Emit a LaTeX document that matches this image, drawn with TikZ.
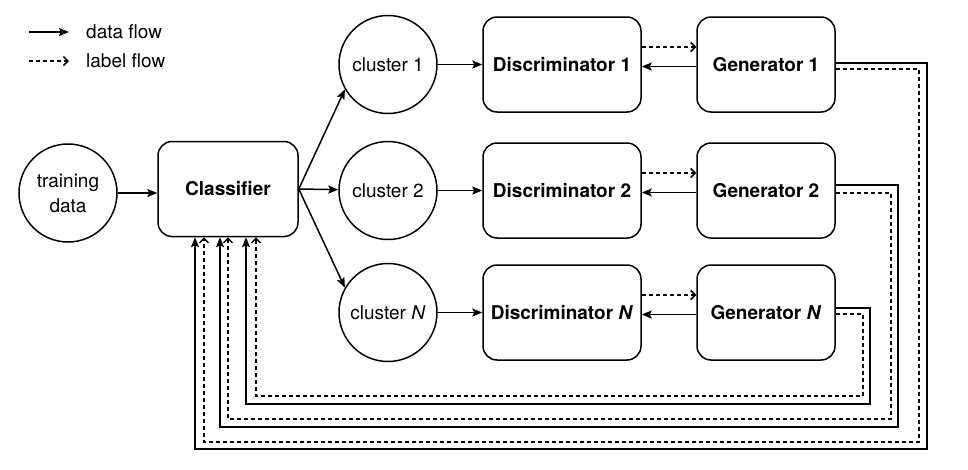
\documentclass[tikz,border=0pt]{standalone}
\usepackage{fontspec}
\setmainfont{TeX Gyre Heros}
\usetikzlibrary{arrows.meta,shapes.geometric}
\begin{document}
\begin{tikzpicture}[x=1pt,y=-1pt,
  every node/.style={font=\fontsize{19}{22}\selectfont},
  box/.style={draw,line width=1.5pt,rounded corners=14pt,minimum height=95pt,inner sep=0pt},
  circ/.style={draw,circle,line width=1.5pt,minimum size=98pt,inner sep=0pt,align=center},
  data/.style={line width=1.5pt,-{Stealth[length=10pt,width=8pt,inset=2pt]}},
  lbl/.style={line width=1.5pt,dash pattern=on 4pt off 3pt,-{Straight Barb[length=4.5pt,width=9pt]}},
]
\useasboundingbox (0,0) rectangle (968,469);
% legend
\coordinate (la1) at (29,32); \coordinate (lb1) at (69,32);
\coordinate (la2) at (29,61); \coordinate (lb2) at (69,61);
\node[anchor=west,inner sep=0pt] (L1) at (86,32) {data flow};
\node[anchor=west,inner sep=0pt] (L2) at (86,61) {label flow};
\draw[data] (la1) -- (lb1);
\draw[lbl] (la2) -- (lb2);
% nodes
\node[circ] (T) at (68,193) {training\\[3pt]data};
\node[box,minimum width=140pt] (Cls) at (228,189) {\bfseries Classifier};
\node[circ] (C1) at (388,64.5) {cluster 1};
\node[circ] (C2) at (388,190.5) {cluster 2};
\node[circ] (CN) at (388,312.5) {cluster \textit{N}};
\node[box,minimum width=158pt] (D1) at (562,64.5) {\bfseries Discriminator 1};
\node[box,minimum width=158pt] (D2) at (562,190.5) {\bfseries Discriminator 2};
\node[box,minimum width=158pt] (DN) at (562,312.5) {\bfseries Discriminator \textit{N}};
\node[box,minimum width=138pt] (G1) at (766,64.5) {\bfseries Generator 1};
\node[box,minimum width=138pt] (G2) at (766,190.5) {\bfseries Generator 2};
\node[box,minimum width=138pt] (GN) at (766,312.5) {\bfseries Generator \textit{N}};
% forward edges
\draw[data] (T) -- (T -| Cls.west);
\draw[data] (Cls.east) -- (C1.210);
\draw[data] (Cls.east) -- (C2);
\draw[data] (Cls.east) -- (CN.150);
\draw[data] (C1) -- (D1);
\draw[data] (C2) -- (D2);
\draw[data] (CN) -- (DN);
\foreach \d/\g in {D1/G1,D2/G2,DN/GN}{
  \draw[lbl] ([yshift=17.5pt]\d.east) -- ([yshift=17.5pt]\g.west);
  \draw[data] ([yshift=-2pt]\g.west) -- ([yshift=-2pt]\d.east);
}
% feedback loops
\draw[data] ([yshift=1.5pt]G1.east) -| (927,449) -| ([xshift=-33pt]Cls.south);
\draw[lbl] ([yshift=-4.5pt]G1.east) -| (919,442) -| ([xshift=-24pt]Cls.south);
\draw[data] ([yshift=5.5pt]G2.east) -| (898,427) -| ([xshift=-8pt]Cls.south);
\draw[lbl] ([yshift=-2.5pt]G2.east) -| (891,419) -| (Cls.south);
\draw[data] ([yshift=4.5pt]GN.east) -| (870,404) -| ([xshift=18pt]Cls.south);
\draw[lbl] ([yshift=-1.5pt]GN.east) -| (863,396) -| ([xshift=28pt]Cls.south);
\end{tikzpicture}
\end{document}
